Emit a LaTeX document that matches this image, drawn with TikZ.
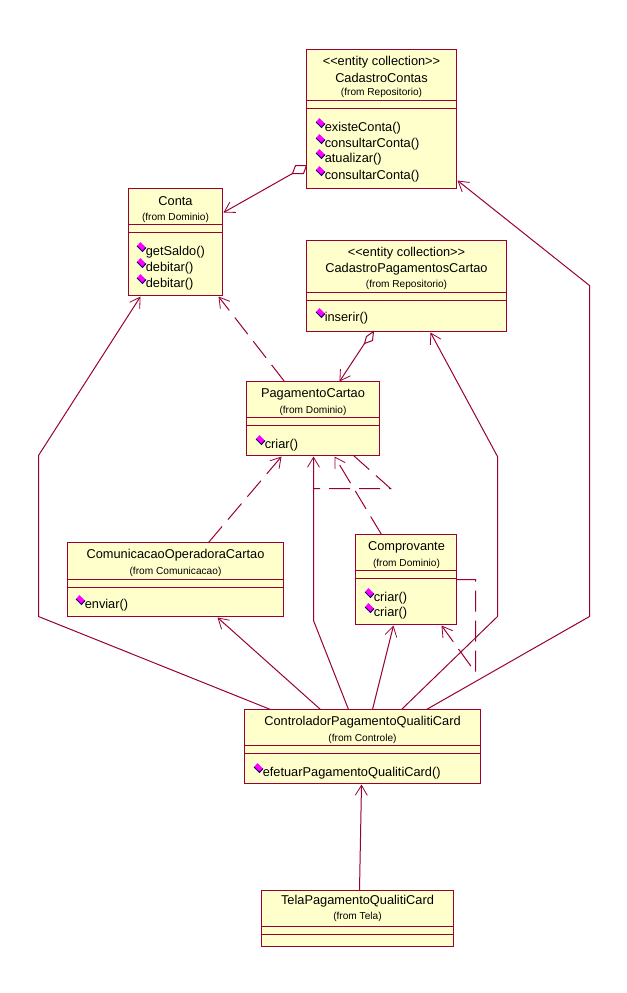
\documentclass[tikz,border=0pt]{standalone}
\usepackage{fontspec}
\setmainfont{Liberation Sans}
\usetikzlibrary{arrows.meta}
\definecolor{umlline}{HTML}{990033}
\definecolor{umlfill}{HTML}{FFFFCC}
\definecolor{opicon}{HTML}{FF00FF}
\definecolor{opshade}{HTML}{000066}
\tikzset{
  x=0.75pt,y=-0.75pt,
  umlclass/.style={draw=umlline,fill=umlfill,line width=0.75pt,anchor=north west,inner sep=0pt,outer sep=0pt},
  compart/.style={draw=umlline,line width=0.75pt},
  conn/.style={draw=umlline,line width=0.75pt},
  assoc/.style={conn,-{Straight Barb[length=7.5pt,width=9pt,line width=0.6pt]}},
  depend/.style={assoc,dash pattern=on 15.75pt off 6.75pt},
  plaindash/.style={conn,dash pattern=on 15.75pt off 6.75pt},
  aggmark/.style={conn,fill=white},
  title/.style={inner sep=0pt,font=\fontsize{9.6}{11}\selectfont,text=black},
  origin/.style={inner sep=0pt,font=\fontsize{7.6}{9}\selectfont,text=black},
  optext/.style={inner sep=0pt,anchor=west,font=\fontsize{9.6}{11}\selectfont,text=black},
}
% class box: name, left, top, width, height, the two compartment rules
\newcommand{\umlbox}[7]{%
  \node[umlclass,minimum width={#4*0.75pt},minimum height={#5*0.75pt}] (#1) at (#2,#3) {};
  \draw[compart] ([shift={(0,#6)}]#1.north west) -- ([shift={(0,#6)}]#1.north east);
  \draw[compart] ([shift={(0,#7)}]#1.north west) -- ([shift={(0,#7)}]#1.north east);
}
% operation: node name, text left, text middle, label
\newcommand{\umlop}[4]{%
  \node[optext] (#1) at (#2-1,#3+0.5) {#4};
  \begin{scope}[shift={(#2-5,#3-4.5)}]
    \fill[opicon] (-4.5,-1) -- (-1,-5) -- (4.5,0.5) -- (1,4.5) -- cycle;
    \draw[opshade,line width=0.7pt] (-4.5,-1) -- (1,4.5) -- (4.5,0.5);
  \end{scope}
}
\begin{document}
\begin{tikzpicture}
\useasboundingbox[fill=white] (-0.5,-0.5) rectangle (625.5,992.5);

% class boxes
\umlbox{contas}{306}{49}{150}{139}{51}{59}
\umlbox{conta}{128}{188}{94}{107}{36}{44}
\umlbox{pagos}{306}{240}{200}{91}{52}{60}
\umlbox{pagamento}{246}{381}{133}{74}{36}{44}
\umlbox{comunic}{67}{542}{216}{74}{37}{45}
\umlbox{comprov}{355}{534}{101}{90}{36}{44}
\umlbox{ctrl}{244}{709}{236}{74}{36}{44}
\umlbox{tela}{261}{890}{192}{56}{36}{44}

% class titles
\node[title] (contasS) at (381,62) {<{}<entity collection>{}>};
\node[title] (contasT) at (381,77) {CadastroContas};
\node[origin] (contasF) at (381,92.5) {(from Repositorio)};
\node[title] (contaT) at (175,200.5) {Conta};
\node[origin] (contaF) at (175,217) {(from Dominio)};
\node[title] (pagosS) at (406,252.5) {<{}<entity collection>{}>};
\node[title] (pagosT) at (406,268.5) {CadastroPagamentosCartao};
\node[origin] (pagosF) at (406,284.5) {(from Repositorio)};
\node[title] (pagamentoT) at (312.5,394) {PagamentoCartao};
\node[origin] (pagamentoF) at (312.5,410.5) {(from Dominio)};
\node[title] (comunicT) at (175,555) {ComunicacaoOperadoraCartao};
\node[origin] (comunicF) at (175,571.5) {(from Comunicacao)};
\node[title] (comprovT) at (406,547) {Comprovante};
\node[origin] (comprovF) at (406,563.5) {(from Dominio)};
\node[title] (ctrlT) at (362,722) {ControladorPagamentoQualitiCard};
\node[origin] (ctrlF) at (362,738.5) {(from Controle)};
\node[title] (telaT) at (357,901) {TelaPagamentoQualitiCard};
\node[origin] (telaF) at (357,916.5) {(from Tela)};

% operations
\umlop{opA}{325}{127}{existeConta()}
\umlop{opB}{325}{143}{consultarConta()}
\umlop{opC}{325}{158}{atualizar()}
\umlop{opD}{325}{175}{consultarConta()}
\umlop{opE}{146}{251}{getSaldo()}
\umlop{opF}{146}{267}{debitar()}
\umlop{opG}{146}{283}{debitar()}
\umlop{opH}{325}{317}{inserir()}
\umlop{opI}{265}{444}{criar()}
\umlop{opJ}{85}{604}{enviar()}
\umlop{opK}{374}{597}{criar()}
\umlop{opL}{374}{612}{criar()}
\umlop{opM}{263}{772}{efetuarPagamentoQualitiCard()}

% bend points
\coordinate (bendContaA) at (38,616);
\coordinate (bendContaB) at (38,455);
\coordinate (bendPagosA) at (497,616);
\coordinate (bendPagosB) at (497,456);
\coordinate (bendContasA) at (589,616);
\coordinate (bendContasB) at (589,285);
\coordinate (bendPagamento) at (313,620);
\coordinate (selfPagA) at (390,488);
\coordinate (selfPagB) at (313,488);
\coordinate (selfCompA) at (475,579);
\coordinate (selfCompB) at (475,672);

% aggregations
\draw[aggmark] ([shift={(0,116)}]contas.north west) -- ++(-11,0) -- ++(-3,8) coordinate (aggContas) -- ++(11,0) -- cycle;
\draw[assoc] (aggContas) -- ([shift={(1,24)}]conta.north east);
\draw[aggmark] ([shift={(67,0)}]pagos.south west) -- ++(-7,5) -- ++(-2,7) coordinate (aggPagos) -- ++(8,-3) -- cycle;
\draw[assoc] (aggPagos) -- ([shift={(93,0)}]pagamento.north west);

% dependencies
\draw[depend] ([shift={(38,0)}]pagamento.north west) -- ([shift={(-4,1)}]conta.south east);
\draw[depend] ([shift={(141,0)}]comunic.north west) -- ([shift={(35,1)}]pagamento.south west);
\draw[depend] ([shift={(26,0)}]comprov.north west) -- ([shift={(88,1)}]pagamento.south west);
\draw[plaindash] ([shift={(107,0)}]pagamento.south west) -- (selfPagA) -- (selfPagB);
\draw[depend] ([shift={(0,45)}]comprov.north east) -- (selfCompA) -- (selfCompB) -- ([shift={(-15,1)}]comprov.south east);

% associations from the controller
\draw[assoc] ([shift={(26,0)}]ctrl.north west) -- (bendContaA) -- (bendContaB) -- ([shift={(12,1)}]conta.south west);
\draw[assoc] ([shift={(76,0)}]ctrl.north west) -- ([shift={(150,1)}]comunic.south west);
\draw[assoc] ([shift={(104,0)}]ctrl.north west) -- (bendPagamento) -- ([shift={(67,1)}]pagamento.south west);
\draw[assoc] ([shift={(128,0)}]ctrl.north west) -- ([shift={(38,1)}]comprov.south west);
\draw[assoc] ([shift={(157,0)}]ctrl.north west) -- (bendPagosA) -- (bendPagosB) -- ([shift={(124,1)}]pagos.south west);
\draw[assoc] ([shift={(182,0)}]ctrl.north west) -- (bendContasA) -- (bendContasB) -- ([shift={(1,-8)}]contas.south east);
\draw[assoc] ([shift={(98,0)}]tela.north west) -- ([shift={(117,1)}]ctrl.south west);
\end{tikzpicture}
\end{document}
